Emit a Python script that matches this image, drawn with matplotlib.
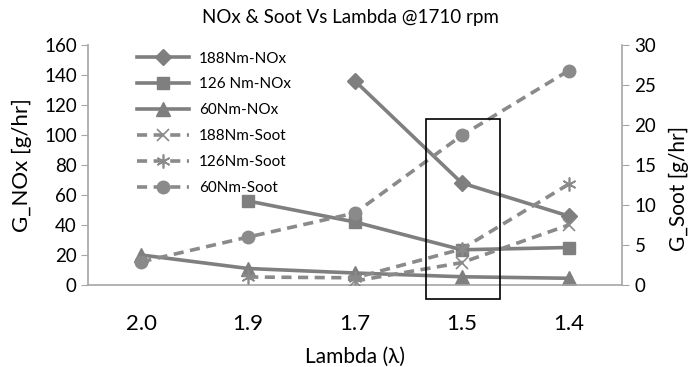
import numpy as np
import matplotlib
matplotlib.use("Agg")
import matplotlib.pyplot as plt
from matplotlib.patches import Rectangle

plt.rcParams['font.family'] = ['Lato', 'DejaVu Sans']

# data
lam = ["2.0", "1.9", "1.7", "1.5", "1.4"]
nox_188 = [np.nan, np.nan, 136, 68, 46]
nox_126 = [np.nan, 56, 42, 23.5, 25]
nox_60 = [20, 11, 8, 5.5, 4.5]
soot_188 = [np.nan, np.nan, 0.5, 2.8, 7.5]
soot_126 = [np.nan, 1.0, 0.9, 4.5, 12.6]
soot_60 = [2.9, 6.0, 9.0, 18.7, 26.8]

grey = '#7f7f7f'
grey2 = '#8a8a8a'
axcol = '#a6a6a6'
dash = (0, (2.8, 1.8))

x = np.arange(len(lam))

fig = plt.figure(figsize=(6.89, 3.67), dpi=100)
ax = fig.add_axes([0.1277, 0.2234, 0.7751, 0.654])
ax2 = ax.twinx()

l1, = ax.plot(x, nox_188, color=grey, lw=2.6, marker='D', ms=8, label="188Nm-NOx")
l2, = ax.plot(x, nox_126, color=grey, lw=2.6, marker='s', ms=9, label="126 Nm-NOx")
l3, = ax.plot(x, nox_60, color=grey, lw=2.6, marker='^', ms=10, label="60Nm-NOx")
l4, = ax2.plot(x, soot_188, color=grey2, lw=2.6, ls=dash, marker='x', ms=9,
               mew=1.2, label="188Nm-Soot")
l5, = ax2.plot(x, soot_126, color=grey2, lw=2.6, ls=dash, marker=(6, 2, 0), ms=10,
               mew=1.2, label="126Nm-Soot")
l6, = ax2.plot(x, soot_60, color=grey2, lw=2.6, ls=dash, marker='o', ms=9,
               label="60Nm-Soot")

ax.set_xlim(-0.5, 4.5)
ax.set_ylim(0, 160)
ax.set_yticks(np.arange(0, 161, 20))
ax2.set_ylim(0, 30)
ax2.set_yticks(np.arange(0, 31, 5))
ax.set_xticks(x)
ax.set_xticklabels(lam, fontsize=16)

for a in (ax, ax2):
    a.spines['top'].set_visible(False)
    for s in ('left', 'right', 'bottom'):
        a.spines[s].set_color(axcol)
        a.spines[s].set_linewidth(1.2)
ax.spines['right'].set_visible(False)
ax2.spines['left'].set_visible(False)
ax2.spines['bottom'].set_visible(False)

ax.tick_params(axis='y', length=5, color=axcol, labelsize=13.5, pad=3)
ax2.tick_params(axis='y', length=5, color=axcol, labelsize=13.5, pad=4)
ax.tick_params(axis='x', length=0, pad=21)

ax.set_ylabel("G_NOx [g/hr]", fontsize=16)
ax.yaxis.set_label_coords(-0.105, 0.5)
ax2.set_ylabel("G_Soot [g/hr]", fontsize=15)
ax2.yaxis.set_label_coords(1.087, 0.404)
ax.set_xlabel("Lambda (\u03bb)", fontsize=15, labelpad=9)

fig.text(350 / 689, 1 - 18 / 367, "NOx & Soot Vs Lambda @1710 rpm", fontsize=13.5,
         ha='center', va='center')

# highlight box around lambda 1.5
box_x, box_w = 2.66, 0.70
box_y, box_h = -9.3, 120
ax2.add_patch(Rectangle((box_x, box_y * 30 / 160), box_w, box_h * 30 / 160, fill=False,
                        edgecolor='black', lw=1.2, clip_on=False, zorder=5))

leg = ax2.legend(handles=[l1, l2, l3, l4, l5, l6], loc='upper left',
                 bbox_to_anchor=(0.066, 1.03), frameon=False, fontsize=11,
                 handlelength=3.4, labelspacing=0.78, handletextpad=0.65)

fig.savefig("out.png", dpi=100)
